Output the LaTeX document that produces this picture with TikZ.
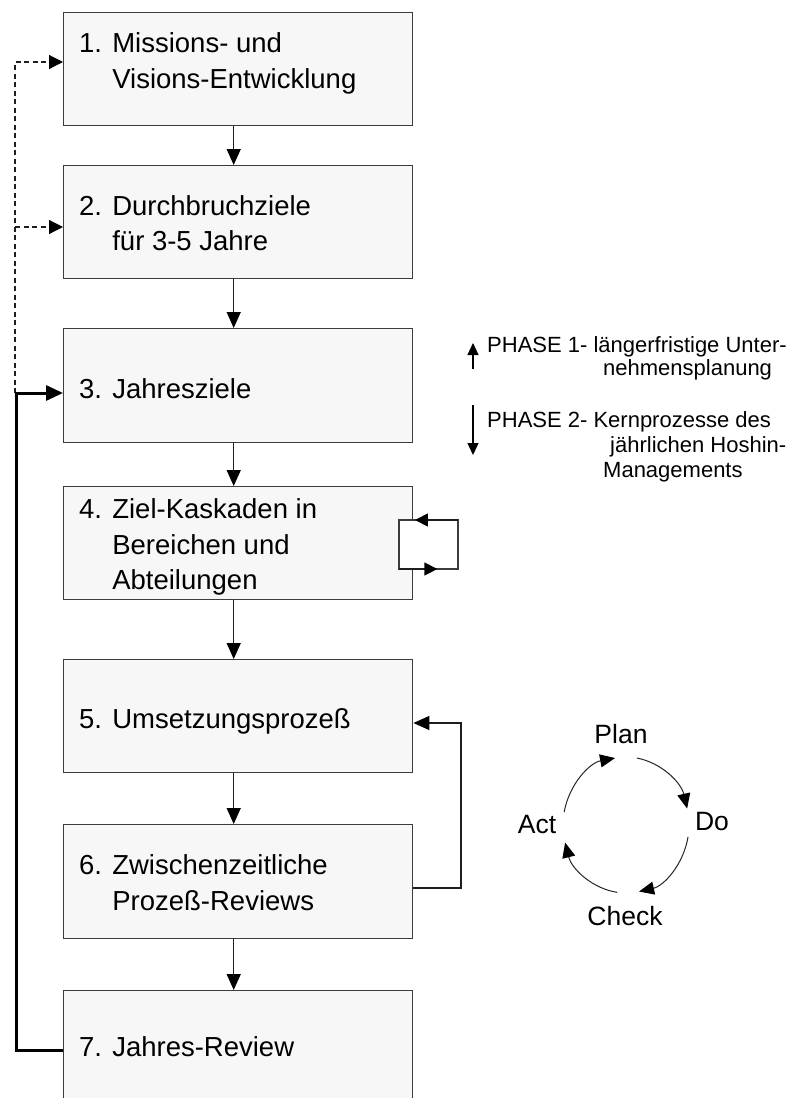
\documentclass[tikz,border=0pt]{standalone}
\usepackage{fontspec}
\setmainfont{Liberation Sans}
\usetikzlibrary{arrows.meta,calc}
\definecolor{boxline}{HTML}{3C3C3C}
\definecolor{boxfill}{HTML}{F7F7F7}
\definecolor{linecol}{HTML}{1E1E1E}
\tikzset{
  box/.style={draw=boxline, fill=boxfill, line width=1.4pt, minimum width=349pt, inner sep=0pt, anchor=north west},
  lbl/.style={anchor=base west, inner sep=0pt, font=\fontsize{27.5}{33}\selectfont},
  phs/.style={anchor=base west, inner sep=0pt, font=\fontsize{22}{24}\selectfont},
  cyc/.style={anchor=base, inner sep=0pt, font=\fontsize{26.5}{30}\selectfont},
  tip/.style={-{Triangle[length=16pt,width=14pt,color=black]}},
  conn/.style={draw=linecol, line width=1.4pt, tip},
  dashconn/.style={draw=linecol, line width=1.2pt, dash pattern=on 5pt off 3.5pt, -{Triangle[length=14pt,width=14pt,color=black]}},
  backconn/.style={draw=black, line width=3pt, -{Triangle[length=17pt,width=15pt]}},
  loopline/.style={draw=boxline, line width=1.4pt},
  loopconn/.style={draw=linecol, line width=1.4pt, -{Triangle[length=13pt,width=13pt,color=black]}},
  smallarr/.style={draw=black, line width=1.2pt, -{Triangle[length=12pt,width=11pt]}},
  cycarr/.style={draw=black!85, line width=1pt, -{Triangle[length=15pt,width=13pt,color=black]}}
}
\begin{document}
\begin{tikzpicture}[x=1pt,y=1pt]
\useasboundingbox (0,0) rectangle (798,-1098);
\clip (0,0) rectangle (798,-1098);
\fill[white] (0,0) rectangle (798,-1098);

% boxes
\node[box, minimum height=113pt] (b1) at (63,-12) {};
\node[box, minimum height=113pt] (b2) at (63,-165) {};
\node[box, minimum height=114pt] (b3) at (63,-328) {};
\node[box, minimum height=113pt] (b4) at (63,-486) {};
\node[box, minimum height=113pt] (b5) at (63,-659) {};
\node[box, minimum height=114pt] (b6) at (63,-824) {};
\node[box, minimum height=118pt] (b7) at (63,-990) {};

% labels
\node[lbl] (t1a) at (79,-52) {1. Missions- und};
\node[lbl] (t1b) at (79,-88) {\phantom{1. }Visions-Entwicklung};
\node[lbl] (t2a) at (79,-215) {2. Durchbruchziele};
\node[lbl] (t2b) at (79,-250) {\phantom{2. }für 3-5 Jahre};
\node[lbl] (t3) at (79,-398) {3. Jahresziele};
\node[lbl] (t4a) at (79,-518) {4. Ziel-Kaskaden in};
\node[lbl] (t4b) at (79,-554) {\phantom{4. }Bereichen und};
\node[lbl] (t4c) at (79,-589) {\phantom{4. }Abteilungen};
\node[lbl] (t5) at (79,-728) {5. Umsetzungsprozeß};
\node[lbl] (t6a) at (79,-874) {6. Zwischenzeitliche};
\node[lbl] (t6b) at (79,-910) {\phantom{6. }Prozeß-Reviews};
\node[lbl] (t7) at (79,-1056) {7. Jahres-Review};

% main flow
\draw[conn] ([xshift=-4.5pt]b1.south) -- ([xshift=-4.5pt]b2.north);
\draw[conn] ([xshift=-4.5pt]b2.south) -- ([xshift=-4.5pt]b3.north);
\draw[conn] ([xshift=-4.5pt]b3.south) -- ([xshift=-4.5pt]b4.north);
\draw[conn] ([xshift=-4.5pt]b4.south) -- ([xshift=-4.5pt]b5.north);
\draw[conn] ([xshift=-4.5pt]b5.south) -- ([xshift=-4.5pt]b6.north);
\draw[conn] ([xshift=-4.5pt]b6.south) -- ([xshift=-4.5pt]b7.north);

% dashed feedback
\coordinate (d0) at (15,-393);
\coordinate (d1) at (15,-62);
\coordinate (d2) at (15,-227);
\draw[dashconn] (d0) -- (d1) -- (b1.west |- d1);
\draw[dashconn] (d2) -- (b2.west |- d2);

% solid feedback
\coordinate (f1) at (16,-1050);
\coordinate (f2) at (16,-393);
\draw[backconn] (b7.west |- f1) -- (f1) -- (f2) -- (b3.west |- f2);

% loop at box 4
\coordinate (L1) at (399,-520);
\coordinate (L2) at (458,-520);
\coordinate (L3) at (458,-569);
\coordinate (L4) at (399,-569);
\filldraw[loopline, fill=white] (L1) -- (L2) -- (L3) -- (L4) -- cycle;
\draw[loopconn] (L2) -- ($(L2)!0.73!(L1)$);
\draw[loopconn] (L4) -- ($(L4)!0.65!(L3)$);

% feedback 6 -> 5
\coordinate (R1) at (461,-888);
\coordinate (R2) at (461,-723);
\draw[conn] (b6.east |- R1) -- (R1) -- (R2) -- (b5.east |- R2);

% phases
\coordinate (p1a) at (473,-369);
\coordinate (p1b) at (473,-343);
\coordinate (p2a) at (473,-405);
\coordinate (p2b) at (473,-455);
\draw[smallarr] (p1a) -- (p1b);
\draw[smallarr] (p2a) -- (p2b);
\node[phs] (ph1a) at (487,-352) {PHASE 1- längerfristige Unter-};
\node[phs] (ph1b) at (603,-375) {nehmensplanung};
\node[phs] (ph2a) at (487,-427) {PHASE 2- Kernprozesse des};
\node[phs] (ph2b) at (610,-452) {jährlichen Hoshin-};
\node[phs] (ph2c) at (603,-477) {Managements};

% PDCA cycle
\node[cyc] (plan) at (621,-743) {Plan};
\node[cyc] (do) at (712,-830) {Do};
\node[cyc] (check) at (625,-925) {Check};
\node[cyc] (act) at (537,-833) {Act};
\coordinate (pc) at (626,-825);
\draw[cycarr] ($(pc)+(80:63 and 68)$) arc[start angle=80, end angle=14, x radius=63, y radius=68];
\draw[cycarr] ($(pc)+(-10:63 and 68)$) arc[start angle=-10, end angle=-78, x radius=63, y radius=68];
\draw[cycarr] ($(pc)+(-98:63 and 68)$) arc[start angle=-98, end angle=-165, x radius=63, y radius=68];
\draw[cycarr] ($(pc)+(169:63 and 68)$) arc[start angle=169, end angle=100, x radius=63, y radius=68];
\end{tikzpicture}
\end{document}
